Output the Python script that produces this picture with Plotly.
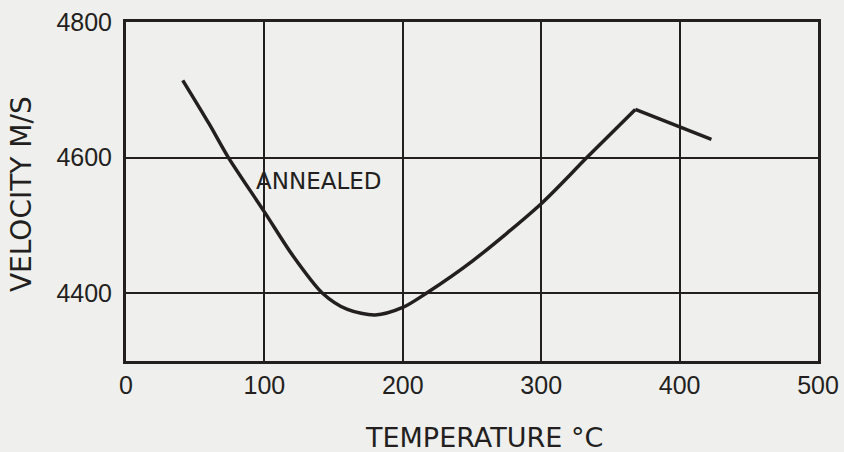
import plotly.graph_objects as go

temperature = [41, 60, 74, 100, 120, 142, 160, 180, 200, 217, 250, 300, 333, 368, 400, 423]
velocity = [4714, 4650, 4600, 4520, 4457, 4400, 4376, 4368, 4379, 4400, 4447, 4532, 4600, 4671, 4645, 4627]

x_ticks = [0, 100, 200, 300, 400, 500]
y_ticks = [4400, 4600, 4800]
label_text = "ANNEALED"
label_pos = (139, 4566)
x_title = "TEMPERATURE °C"
y_title = "VELOCITY M/S"

ink = "#231f20"
bg = "#efefed"
tick_font = dict(family="Liberation Sans, Arial, sans-serif", size=25, color=ink)
title_font = dict(family="DejaVu Sans, sans-serif", size=27, color=ink)

fig = go.Figure()
fig.add_trace(go.Scatter(
    x=temperature[:14], y=velocity[:14], mode="lines",
    line=dict(color=ink, width=3.5, shape="spline", smoothing=0.8),
    showlegend=False, hoverinfo="skip"))
fig.add_trace(go.Scatter(
    x=temperature[13:], y=velocity[13:], mode="lines",
    line=dict(color=ink, width=3.5),
    showlegend=False, hoverinfo="skip"))

fig.add_annotation(x=label_pos[0], y=label_pos[1], text=label_text, showarrow=False,
                   font=dict(family="DejaVu Sans, sans-serif", size=23, color=ink))
fig.add_annotation(xref="paper", yref="paper", x=0.517, y=-0.227, text=x_title,
                   showarrow=False, font=title_font, xanchor="center", yanchor="middle")
fig.add_annotation(xref="paper", yref="paper", x=-0.150, y=0.493, text=y_title,
                   showarrow=False, font=dict(family="DejaVu Sans, sans-serif", size=28, color=ink),
                   textangle=-90, xanchor="center", yanchor="middle")

fig.update_xaxes(range=[0, 500], tickvals=x_ticks, ticktext=[str(v) for v in x_ticks],
                 showline=True, mirror=True, linecolor=ink, linewidth=3,
                 showgrid=True, gridcolor=ink, gridwidth=2, zeroline=False,
                 ticks="", tickfont=tick_font, automargin=False)
fig.update_yaxes(range=[4300, 4800], tickvals=y_ticks, ticktext=[str(v) for v in y_ticks],
                 showline=True, mirror=True, linecolor=ink, linewidth=3,
                 showgrid=True, gridcolor=ink, gridwidth=2, zeroline=False,
                 ticks="", tickfont=tick_font, automargin=False, ticklabelstandoff=6)

fig.update_layout(width=844, height=452, margin=dict(l=126, r=26, t=22, b=91, autoexpand=False),
                  paper_bgcolor=bg, plot_bgcolor=bg)

fig.write_html("out.html", config={"displayModeBar": False},
               post_script="document.body.style.margin='0';document.body.style.overflow='hidden';")
